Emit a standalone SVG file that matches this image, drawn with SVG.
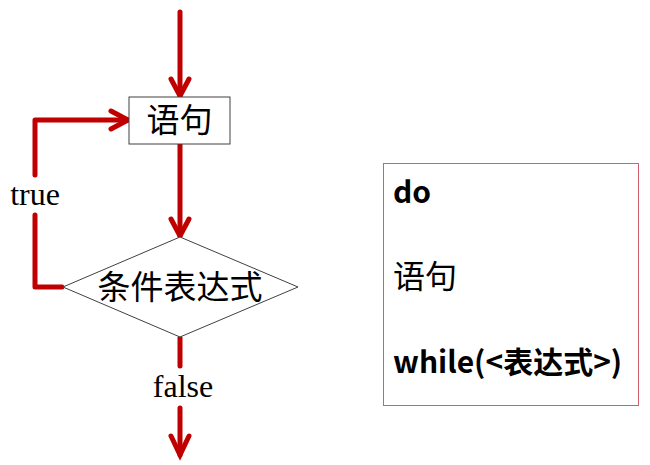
<svg xmlns="http://www.w3.org/2000/svg" width="650" height="465" viewBox="0 0 650 465">
<style>
.flow{fill:none;stroke:#c00000;stroke-width:5;stroke-linecap:round;stroke-linejoin:round}
.head{fill:none;stroke:#c00000;stroke-width:5;stroke-linecap:round;stroke-linejoin:miter}
.shape{fill:#fff;stroke:#404040;stroke-width:1}
.serif{font-family:"Liberation Serif","Noto Sans CJK SC",serif;font-size:33px;fill:#000}
.code{font-family:"Noto Sans CJK SC","Liberation Sans",sans-serif;font-size:30px;fill:#000}
.b{font-weight:bold}
</style>
<rect width="650" height="465" fill="#fff"/>
<g id="connectors">
<path class="flow" d="M180,12 V96"/>
<path class="head" d="M171,79 L180,96 L189,79"/>
<path class="flow" d="M180,144 V236"/>
<path class="head" d="M171,219 L180,236 L189,219"/>
<path class="flow" d="M62,287 H35 V215"/>
<path class="flow" d="M35,175 V120 H128"/>
<path class="head" d="M111,111 L128,120 L111,129"/>
<path class="flow" d="M180,338 V366"/>
<path class="flow" d="M180,408 V455"/>
<path class="head" d="M171,436 L180,455 L189,436"/>
</g>
<g id="node-stmt">
<rect class="shape" x="129" y="97" width="101" height="47"/>
<text class="serif" x="179.5" y="132" text-anchor="middle">语句</text>
</g>
<g id="node-cond">
<polygon class="shape" points="180,237 298,287 180,337 63,287"/>
<text class="serif" x="180" y="299" text-anchor="middle">条件表达式</text>
</g>
<g id="label-true">
<text class="serif" x="35" y="205" text-anchor="middle" style="font-size:32px">true</text>
</g>
<g id="label-false">
<text class="serif" x="183" y="397" text-anchor="middle" style="font-size:32px">false</text>
</g>
<g id="code-box">
<rect x="383.5" y="163.5" width="255" height="242" fill="#fff" stroke="#d06070" stroke-width="1"/>
<text class="code b" x="393" y="203">do</text>
<text class="code" x="393" y="288" style="font-size:32px">语句</text>
<text class="code b" x="393" y="373">while(&lt;表达式&gt;)</text>
</g>
</svg>
